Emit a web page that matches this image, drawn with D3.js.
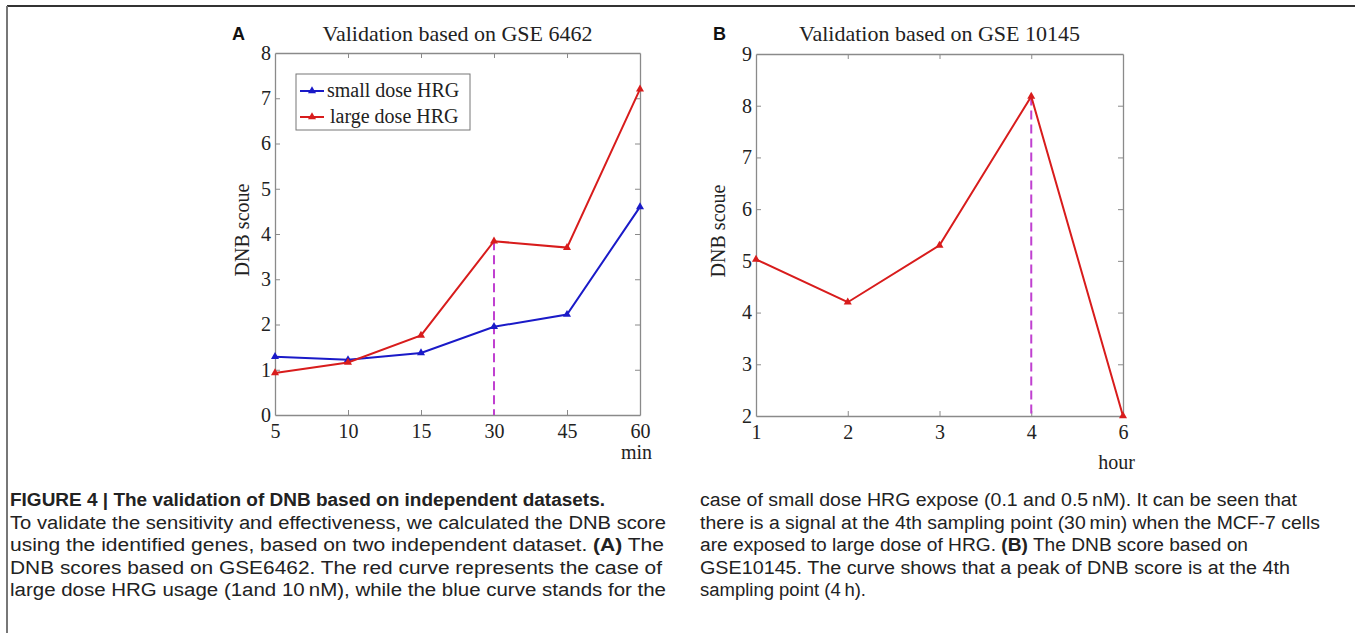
<!DOCTYPE html>
<html>
<head>
<meta charset="utf-8">
<script src="https://cdn.jsdelivr.net/npm/d3@7"></script>
<style>
  html, body { margin: 0; padding: 0; background: #fff; }
  svg { display: block; }
</style>
</head>
<body>
<svg id="chart" width="1355" height="633"></svg>
<script>
// ---------- data ----------
const catsA = ["5", "10", "15", "30", "45", "60"];
const smallDoseA = [1.29, 1.22, 1.37, 1.95, 2.22, 4.60];
const largeDoseA = [0.93, 1.16, 1.76, 3.84, 3.70, 7.20];
const yTicksA = [0, 1, 2, 3, 4, 5, 6, 7, 8];
const peakA = "30";

const catsB = ["1", "2", "3", "4", "6"];
const scoreB = [5.03, 4.20, 5.30, 8.18, 2.00];
const yTicksB = [2, 3, 4, 5, 6, 7, 8, 9];
const peakB = "4";

const legendLabels = ["small dose HRG", "large dose HRG"];

const captionLeft = [
  [{t: "FIGURE 4 | The validation of DNB based on independent datasets.", b: true}],
  [{t: "To validate the sensitivity and effectiveness, we calculated the DNB score"}],
  [{t: "using the identified genes, based on two independent dataset. "}, {t: "(A)", b: true}, {t: " The"}],
  [{t: "DNB scores based on GSE6462. The red curve represents the case of"}],
  [{t: "large dose HRG usage (1and 10\u2009nM), while the blue curve stands for the"}]
];
const captionRight = [
  [{t: "case of small dose HRG expose (0.1 and 0.5\u2009nM). It can be seen that"}],
  [{t: "there is a signal at the 4th sampling point (30\u2009min) when the MCF-7 cells"}],
  [{t: "are exposed to large dose of HRG. "}, {t: "(B)", b: true}, {t: " The DNB score based on"}],
  [{t: "GSE10145. The curve shows that a peak of DNB score is at the 4th"}],
  [{t: "sampling point (4\u2009h)."}]
];

// ---------- drawing ----------
const svg = d3.select("#chart");
const RED = "#d81c1c", BLUE = "#1a1ac8", MAG = "#c040d0", AXIS = "#8a8a8a";
const serif = "'Liberation Serif', 'Times New Roman', serif";
const sans = "'Liberation Sans', Arial, sans-serif";

// frame lines
svg.append("line").attr("x1", 7).attr("x2", 1355).attr("y1", 6).attr("y2", 6)
  .attr("stroke", "#333").attr("stroke-width", 2);
svg.append("line").attr("x1", 7).attr("x2", 7).attr("y1", 6).attr("y2", 633)
  .attr("stroke", "#777").attr("stroke-width", 2);

function panel(opts) {
  const {cats, yTicks, yDomain, x0, x1, yTop, yBot, series, peak, letter, title, xUnit, ylabX, unitY} = opts;
  const x = d3.scalePoint().domain(cats).range([x0, x1]).padding(0);
  const y = d3.scaleLinear().domain(yDomain).range([yBot, yTop]);
  const g = svg.append("g");
  const tickLen = 5;

  const bottom = g.append("g").attr("transform", `translate(0,${yBot})`)
    .call(d3.axisBottom(x).tickSizeInner(-tickLen).tickSizeOuter(0).tickPadding(9));
  const left = g.append("g").attr("transform", `translate(${x0},0)`)
    .call(d3.axisLeft(y).tickValues(yTicks).tickFormat(d3.format("d")).tickSizeInner(-tickLen).tickSizeOuter(0).tickPadding(4));
  const top = g.append("g").attr("transform", `translate(0,${yTop})`)
    .call(d3.axisTop(x).tickSizeInner(-tickLen).tickSizeOuter(0).tickFormat(""));
  const right = g.append("g").attr("transform", `translate(${x1},0)`)
    .call(d3.axisRight(y).tickValues(yTicks).tickSizeInner(-tickLen).tickSizeOuter(0).tickFormat(""));
  [bottom, left, top, right].forEach(a => {
    a.select(".domain").attr("stroke", AXIS).attr("stroke-width", 1.3);
    a.selectAll(".tick line").attr("stroke", AXIS).attr("stroke-width", 1);
    a.selectAll("text").attr("font-family", serif).attr("font-size", 20).attr("fill", "#222");
  });
  top.selectAll(".tick").filter((d, i) => i === 0 || i === cats.length - 1).remove();
  bottom.selectAll(".tick line").filter((d, i) => i === 0 || i === cats.length - 1).remove();
  left.selectAll(".tick line").filter((d, i) => i === 0 || i === yTicks.length - 1).remove();
  right.selectAll(".tick").filter((d, i) => i === 0 || i === yTicks.length - 1).remove();

  // dashed peak marker
  const peakVal = series[series.length - 1].values[cats.indexOf(peak)];
  g.append("line")
    .attr("x1", x(peak)).attr("x2", x(peak))
    .attr("y1", y(peakVal)).attr("y2", y(yDomain[0]))
    .attr("stroke", MAG).attr("stroke-width", 2).attr("stroke-dasharray", "9,5");

  // series
  const line = d3.line().x((d, i) => x(cats[i])).y(d => y(d));
  const tri = d3.symbol().type(d3.symbolTriangle).size(28);
  series.forEach(s => {
    g.append("path").datum(s.values).attr("d", line)
      .attr("fill", "none").attr("stroke", s.color).attr("stroke-width", 2);
    g.selectAll(null).data(s.values).enter().append("path")
      .attr("d", tri)
      .attr("transform", (d, i) => `translate(${x(cats[i])},${y(d)})`)
      .attr("fill", s.color);
  });

  g.append("text").attr("x", (x0 + x1) / 2).attr("y", 41).attr("text-anchor", "middle")
    .attr("font-family", serif).attr("font-size", 22).attr("fill", "#222").text(title);
  g.append("text").attr("x", x0 - 43).attr("y", 40).attr("text-anchor", "start")
    .attr("font-family", sans).attr("font-weight", "bold").attr("font-size", 18).attr("fill", "#111").text(letter);
  g.append("text").attr("transform", `translate(${ylabX},${(yTop + yBot) / 2 - 4}) rotate(-90)`)
    .attr("text-anchor", "middle").attr("dy", "0.35em")
    .attr("font-family", serif).attr("font-size", 20).attr("fill", "#222").text("DNB scoue");
  g.append("text").attr("x", x1 + 12).attr("y", unitY).attr("text-anchor", "end")
    .attr("font-family", serif).attr("font-size", 20).attr("fill", "#222").text(xUnit);
  return {x, y, g};
}

panel({
  cats: catsA, yTicks: yTicksA, yDomain: [0, 8], x0: 275, x1: 640, yTop: 53, yBot: 415,
  series: [{values: smallDoseA, color: BLUE}, {values: largeDoseA, color: RED}],
  peak: peakA, letter: "A", title: "Validation based on GSE 6462", xUnit: "min", ylabX: 242, unitY: 459
});
panel({
  cats: catsB, yTicks: yTicksB, yDomain: [2, 9], x0: 756, x1: 1123, yTop: 54, yBot: 416,
  series: [{values: scoreB, color: RED}],
  peak: peakB, letter: "B", title: "Validation based on GSE 10145", xUnit: "hour", ylabX: 718, unitY: 469
});

// legend (panel A)
const lg = svg.append("g").attr("transform", "translate(296,74)");
lg.append("rect").attr("width", 174).attr("height", 56).attr("fill", "#fff")
  .attr("stroke", "#777").attr("stroke-width", 1);
const legColors = [BLUE, RED];
legendLabels.forEach((lab, i) => {
  const cy = 17 + i * 26;
  lg.append("line").attr("x1", 4).attr("x2", 28).attr("y1", cy).attr("y2", cy)
    .attr("stroke", legColors[i]).attr("stroke-width", 2);
  lg.append("path").attr("d", d3.symbol().type(d3.symbolTriangle).size(28))
    .attr("transform", `translate(16,${cy})`).attr("fill", legColors[i]);
  lg.append("text").attr("x", 31 + (i === 1 ? 3 : 0)).attr("y", cy + 6)
    .attr("font-family", serif).attr("font-size", 20).attr("fill", "#222").text(lab);
});

// caption (line widths matched to the printed column)
const leftWidths = [595, 656, 654, 652, 656];
const rightWidths = [597, 620, 548, 590, 166];
function caption(lines, widths, x0, yStart) {
  lines.forEach((parts, i) => {
    const t = svg.append("text").attr("x", x0).attr("y", yStart + i * 22.6)
      .attr("font-family", sans).attr("font-size", 18).attr("fill", "#222")
      .attr("textLength", widths[i]).attr("lengthAdjust", "spacingAndGlyphs");
    parts.forEach(p => t.append("tspan").attr("font-weight", p.b ? "bold" : "normal").text(p.t));
  });
}
caption(captionLeft, leftWidths, 10, 506);
caption(captionRight, rightWidths, 700, 506);
</script>
</body>
</html>
